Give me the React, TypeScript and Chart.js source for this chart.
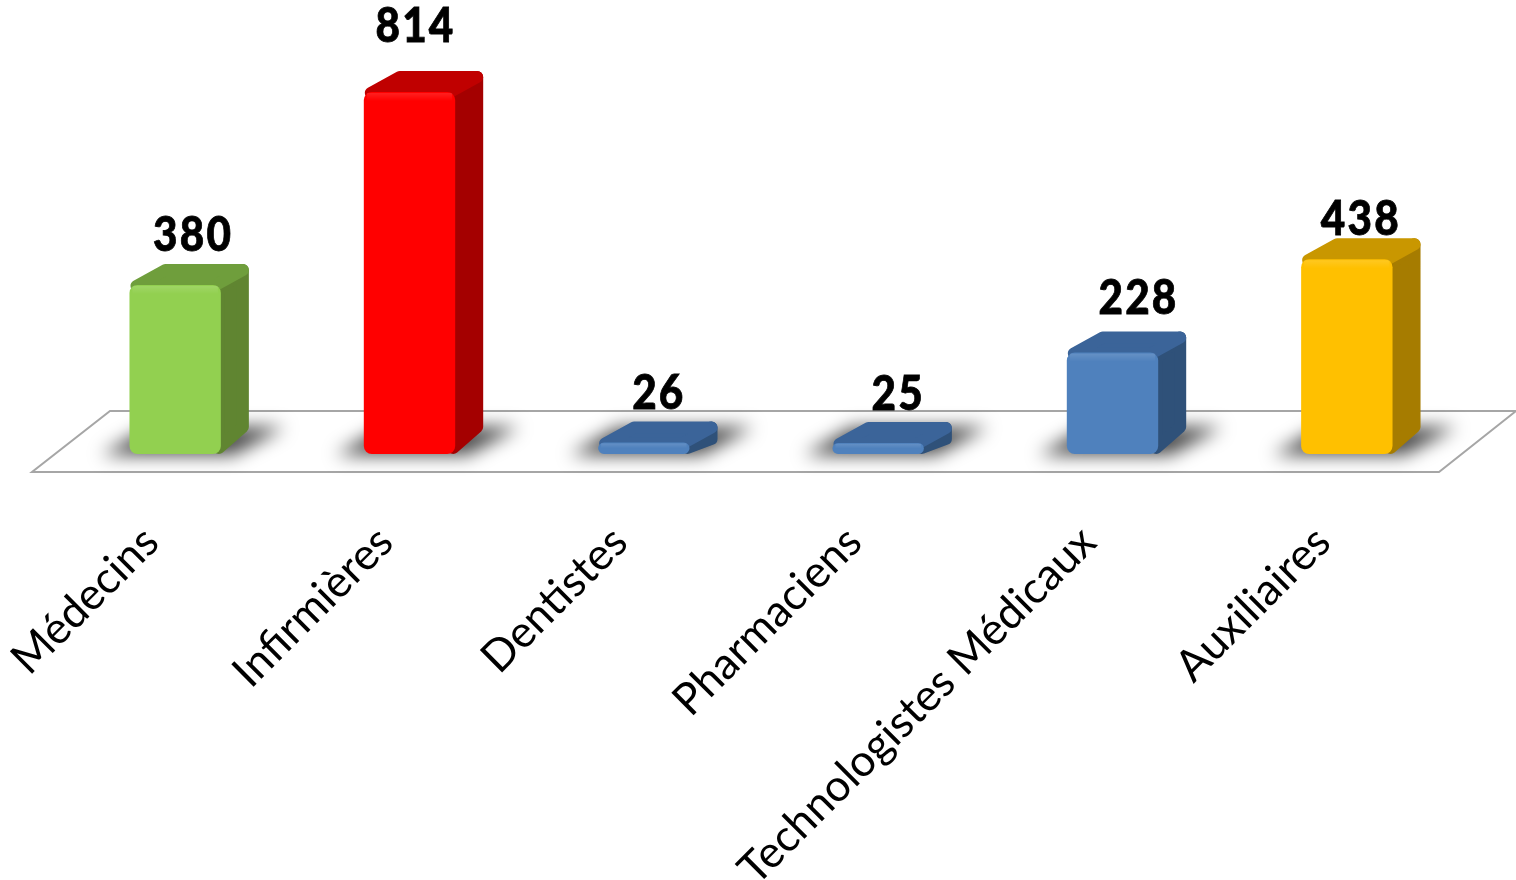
import React, { useEffect, useRef } from "react";
import { Chart, registerables } from "chart.js";

Chart.register(...registerables);

const categories = ["Médecins", "Infirmières", "Dentistes", "Pharmaciens", "Technologistes Médicaux", "Auxiliaires"];
const values = [380, 814, 26, 25, 228, 438];
const frontColors = ["#92d050", "#ff0000", "#4f81bd", "#4f81bd", "#4f81bd", "#ffc000"];
const topColors = ["#6f9e3c", "#c00000", "#3b6499", "#3b6499", "#3b6499", "#c99700"];
const sideColors = ["#608531", "#a40000", "#2f5179", "#2f5179", "#2f5179", "#a67c00"];
const labelShiftX = [18, 6, 15, 20, 26, 14];
const labelShiftY = [-29, -45, -28, -27, -33, -19];

const DEPTH_X = 28;
const DEPTH_Y = -21;

function roundedPoly(ctx: CanvasRenderingContext2D, pts: number[][], color: string, r: number) {
  const cx = pts.reduce((s, p) => s + p[0], 0) / pts.length;
  const cy = pts.reduce((s, p) => s + p[1], 0) / pts.length;
  ctx.beginPath();
  pts.forEach((p, i) => {
    const sx = p[0] + Math.sign(cx - p[0]) * r;
    const sy = p[1] + Math.sign(cy - p[1]) * r;
    if (i === 0) ctx.moveTo(sx, sy);
    else ctx.lineTo(sx, sy);
  });
  ctx.closePath();
  ctx.fillStyle = color;
  ctx.strokeStyle = color;
  ctx.lineWidth = r * 2;
  ctx.lineJoin = "round";
  ctx.fill();
  ctx.stroke();
}

const scene3d = {
  id: "scene3d",
  beforeDatasetsDraw(chart: any) {
    const { ctx, chartArea } = chart;
    const yBase = chart.scales.y.getPixelForValue(0);
    const { left, right } = chartArea;
    ctx.save();
    ctx.beginPath();
    ctx.moveTo(left - 26, yBase + 18);
    ctx.lineTo(right - 25, yBase + 18);
    ctx.lineTo(right + 52, yBase - 43);
    ctx.lineTo(left + 52, yBase - 43);
    ctx.closePath();
    ctx.strokeStyle = "#a6a6a6";
    ctx.lineWidth = 2;
    ctx.stroke();

    const bars = chart.getDatasetMeta(0).data;
    bars.forEach((bar: any) => {
      const x0 = bar.x - bar.width / 2;
      const x1 = bar.x + bar.width / 2;
      ctx.save();
      ctx.filter = "blur(9px)";
      ctx.fillStyle = "rgba(0,0,0,0.72)";
      ctx.beginPath();
      ctx.moveTo(x0 - 28, yBase + 1);
      ctx.lineTo(x1 + 12, yBase + 1);
      ctx.lineTo(x1 + 64, yBase - 27);
      ctx.lineTo(x0 + 20, yBase - 27);
      ctx.closePath();
      ctx.fill();
      ctx.restore();
    });

    bars.forEach((bar: any, i: number) => {
      const x0 = bar.x - bar.width / 2;
      const x1 = bar.x + bar.width / 2;
      const t = bar.y;
      const b = yBase;
      roundedPoly(ctx, [[x1 - 8, b], [x1 + DEPTH_X, b + DEPTH_Y], [x1 + DEPTH_X, t + DEPTH_Y], [x1 - 8, t]], sideColors[i], 6);
      roundedPoly(ctx, [[x0 + 1, t + 7], [x0 + DEPTH_X + 2, t + DEPTH_Y], [x1 + DEPTH_X, t + DEPTH_Y], [x1 - 1, t + 7]], topColors[i], 6);
    });
    ctx.restore();
  },
  afterDatasetsDraw(chart: any) {
    const { ctx } = chart;
    const bars = chart.getDatasetMeta(0).data;
    ctx.save();
    bars.forEach((bar: any, i: number) => {
      const x0 = bar.x - bar.width / 2;
      const h = Math.min(9, Math.abs(bar.base - bar.y) / 2);
      const g = ctx.createLinearGradient(0, bar.y, 0, bar.y + h);
      g.addColorStop(0, "rgba(255,255,255,0.14)");
      g.addColorStop(1, "rgba(255,255,255,0)");
      ctx.fillStyle = g;
      ctx.fillRect(x0 + 3, bar.y + 1, bar.width - 6, h);
      ctx.save();
      const tx = bar.x + labelShiftX[i];
      const ty = bar.y + DEPTH_Y + labelShiftY[i];
      ctx.translate(tx, ty);
      ctx.scale(0.88, 1);
      ctx.fillStyle = "#000000";
      ctx.strokeStyle = "#000000";
      ctx.lineWidth = 0.8;
      ctx.font = "900 48px Lato";
      (ctx as any).letterSpacing = "2.5px";
      ctx.textAlign = "center";
      ctx.textBaseline = "middle";
      ctx.fillText(String(values[i]), 0, 0);
      ctx.strokeText(String(values[i]), 0, 0);
      ctx.restore();
    });
    ctx.restore();
  },
};

export default function App() {
  const ref = useRef<HTMLCanvasElement>(null);
  useEffect(() => {
    document.body.style.margin = "0";
    document.body.style.background = "#ffffff";
    const chart = new Chart(ref.current!, {
      type: "bar",
      data: {
        labels: categories,
        datasets: [
          {
            data: values,
            backgroundColor: frontColors,
            borderRadius: 8,
            borderSkipped: false,
            barPercentage: 0.39,
            categoryPercentage: 1,
          },
        ],
      },
      options: {
        responsive: false,
        animation: false,
        devicePixelRatio: 1,
        layout: { autoPadding: false, padding: { left: 58, right: 52, top: 12, bottom: 0 } },
        plugins: { legend: { display: false }, tooltip: { enabled: false } },
        scales: {
          y: { display: false, min: 0, max: 994 },
          x: {
            grid: { display: false, drawTicks: false },
            border: { display: false },
            afterFit(scale: any) {
              scale.height = 426;
              scale.paddingLeft = 0;
              scale.paddingRight = 0;
            },
            ticks: {
              autoSkip: false,
              minRotation: 45,
              maxRotation: 45,
              padding: 62,
              labelOffset: -24,
              color: "#000000",
              font: { family: "Lato", size: 44 },
            },
          },
        },
      },
      plugins: [scene3d],
    } as any);
    return () => chart.destroy();
  }, []);
  return <canvas ref={ref} width={1516} height={880} style={{ display: "block" }} />;
}
